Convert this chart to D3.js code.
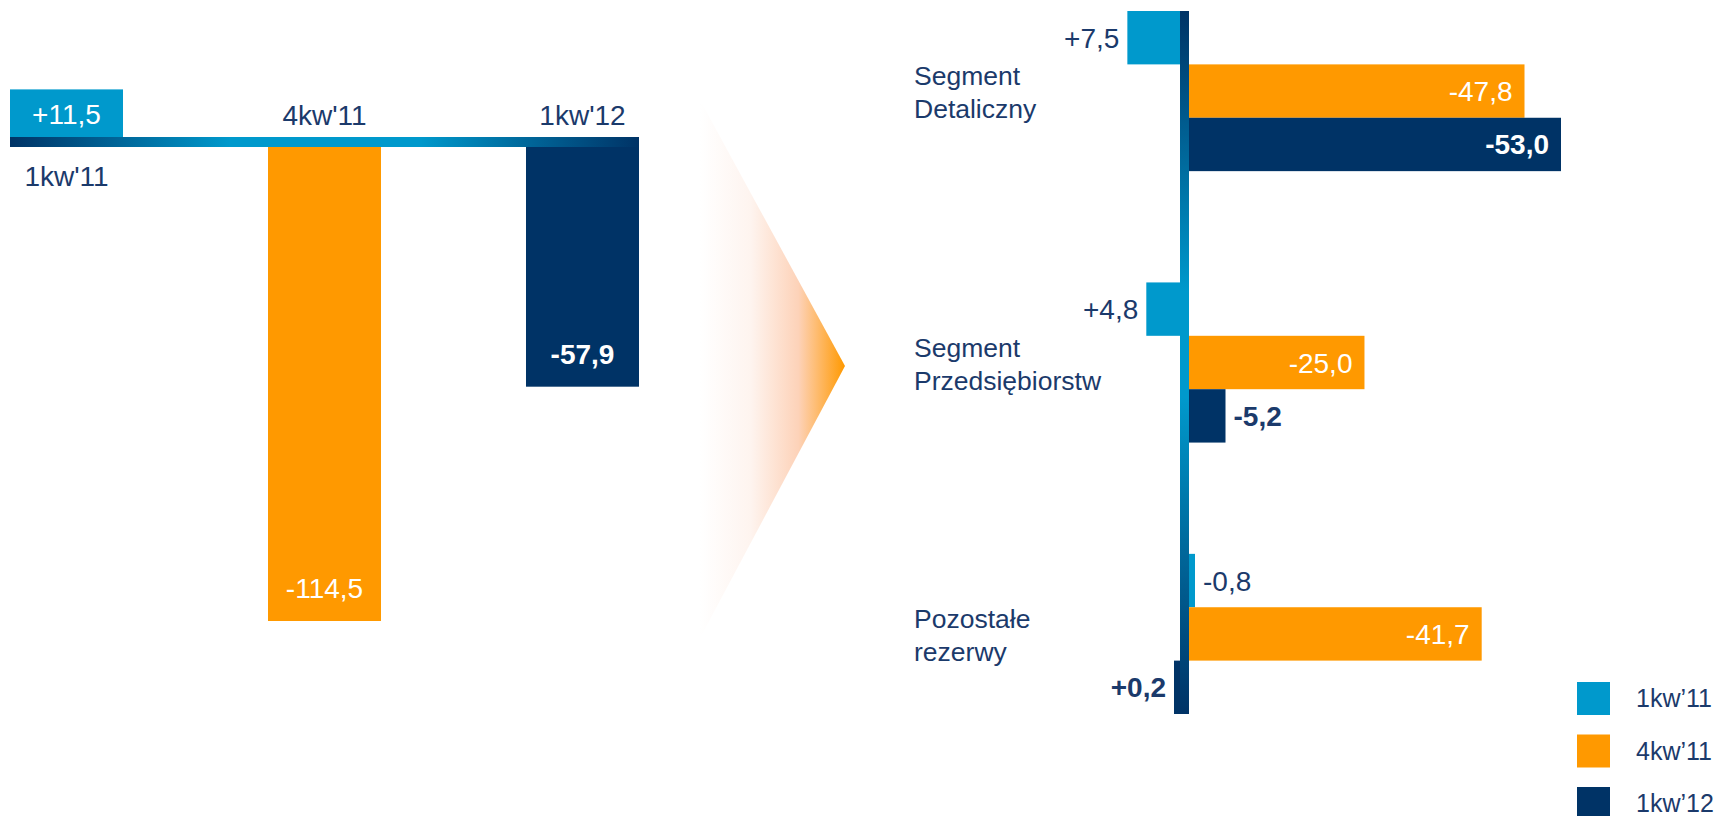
<!DOCTYPE html>
<html>
<head>
<meta charset="utf-8">
<script src="https://cdn.jsdelivr.net/npm/d3@7"></script>
<style>
  body { margin: 0; background: #fff; }
  svg { display: block; font-family: Arial, "Liberation Sans", sans-serif; }
</style>
</head>
<body>
<svg id="chart" width="1724" height="816"></svg>
<script>
// lewy wykres: suma rezerw
const totalCategories = ["1kw'11", "4kw'11", "1kw'12"];
const totalValues = [11.5, -114.5, -57.9];

// prawy wykres: podział na segmenty
const segments = [["Segment", "Detaliczny"], ["Segment", "Przedsiębiorstw"], ["Pozostałe", "rezerwy"]];
const seriesNames = ["1kw’11", "4kw’11", "1kw’12"];
const values1kw11 = [7.5, 4.8, -0.8];
const values4kw11 = [-47.8, -25.0, -41.7];
const values1kw12 = [-53.0, -5.2, 0.2];

const colors = ["#0099cc", "#ff9900", "#003366"];
const textColor = "#1b3a6b";

const svg = d3.select("#chart");
const defs = svg.append("defs");

// formatowanie liczb po polsku (przecinek, znak +)
function fmt(v) {
  const s = Math.abs(v).toFixed(1).replace(".", ",");
  return (v > 0 ? "+" : "-") + s;
}

// gradienty
const hGrad = defs.append("linearGradient").attr("id", "axisH").attr("x1", 0).attr("x2", 1).attr("y1", 0).attr("y2", 0);
[[0, "#003366"], [0.35, "#0099cc"], [0.65, "#0099cc"], [1, "#003366"]].forEach(s =>
  hGrad.append("stop").attr("offset", s[0]).attr("stop-color", s[1]));

const vGrad = defs.append("linearGradient").attr("id", "axisV").attr("x1", 0).attr("x2", 0).attr("y1", 0).attr("y2", 1);
[[0, "#003366"], [0.4, "#0099cc"], [0.55, "#0099cc"], [1, "#003366"]].forEach(s =>
  vGrad.append("stop").attr("offset", s[0]).attr("stop-color", s[1]));

const arrowGrad = defs.append("linearGradient").attr("id", "arrowG").attr("x1", 0).attr("x2", 1).attr("y1", 0).attr("y2", 0);
[[0, "#ffffff"], [0.35, "#fef4ef"], [0.68, "#fdd2b8"], [1, "#ff9900"]].forEach(s =>
  arrowGrad.append("stop").attr("offset", s[0]).attr("stop-color", s[1]));

// ---------- lewy wykres ----------
const axisTop = 137, axisH = 10;
const xLeft = d3.scaleBand().domain(totalCategories).range([10, 639]).paddingInner(0.562).paddingOuter(0);
const hLeft = d3.scaleLinear().domain([0, 114.5]).range([0, 474]);

const left = svg.append("g");
left.selectAll("rect.bar").data(totalValues).join("rect")
  .attr("class", "bar")
  .attr("x", (d, i) => xLeft(totalCategories[i]))
  .attr("width", xLeft.bandwidth())
  .attr("y", d => d > 0 ? axisTop - hLeft(d) : axisTop + axisH)
  .attr("height", d => hLeft(Math.abs(d)))
  .attr("fill", (d, i) => colors[i]);

left.append("rect")
  .attr("x", xLeft.range()[0]).attr("y", axisTop)
  .attr("width", xLeft.range()[1] - xLeft.range()[0]).attr("height", axisH)
  .attr("fill", "url(#axisH)");

left.selectAll("text.val").data(totalValues).join("text")
  .attr("class", "val")
  .attr("x", (d, i) => xLeft(totalCategories[i]) + xLeft.bandwidth() / 2)
  .attr("y", d => d > 0 ? axisTop - hLeft(d) / 2 + 11 : axisTop + axisH + hLeft(-d) - 23)
  .attr("text-anchor", "middle")
  .attr("font-size", 28)
  .attr("font-weight", (d, i) => i === 2 ? "bold" : "normal")
  .attr("fill", "#fff")
  .text(d => fmt(d));

left.selectAll("text.cat").data(totalValues).join("text")
  .attr("class", "cat")
  .attr("x", (d, i) => xLeft(totalCategories[i]) + xLeft.bandwidth() / 2)
  .attr("y", d => d > 0 ? axisTop + axisH + 39 : axisTop - 12)
  .attr("text-anchor", "middle")
  .attr("font-size", 28)
  .attr("fill", textColor)
  .text((d, i) => totalCategories[i]);

// strzałka
svg.append("path")
  .attr("d", "M700,100 L845,366 L700,638 Z")
  .attr("fill", "url(#arrowG)");

// ---------- prawy wykres ----------
const series = [values1kw11, values4kw11, values1kw12];
const yGroup = d3.scaleBand().domain(d3.range(segments.length)).range([11, 714]).paddingInner(0.41).paddingOuter(0);
const ySeries = d3.scaleBand().domain(d3.range(series.length)).range([0, yGroup.bandwidth()]);
const axisX = 1180, axisW = 9;
const wRight = d3.scaleLinear().domain([0, 53]).range([0, 372]);

const cells = [];
segments.forEach((seg, g) => series.forEach((vals, s) => cells.push({ g, s, v: vals[g] })));

const right = svg.append("g");
function barW(d) { return Math.max(wRight(Math.abs(d.v)), 6); }
function barX(d) { return d.v > 0 ? axisX - barW(d) : axisX + axisW; }

right.selectAll("rect.bar").data(cells).join("rect")
  .attr("class", "bar")
  .attr("x", barX)
  .attr("width", barW)
  .attr("y", d => yGroup(d.g) + ySeries(d.s))
  .attr("height", ySeries.bandwidth())
  .attr("fill", d => colors[d.s]);

right.append("rect")
  .attr("x", axisX).attr("y", yGroup.range()[0])
  .attr("width", axisW).attr("height", yGroup.range()[1] - yGroup.range()[0])
  .attr("fill", "url(#axisV)");

right.selectAll("text.val").data(cells).join("text")
  .attr("class", "val")
  .each(function (d) {
    const t = d3.select(this);
    const inside = d.v < 0 && barW(d) > 80;
    let x, anchor;
    if (inside) { x = barX(d) + barW(d) - 12; anchor = "end"; }
    else if (d.v > 0) { x = barX(d) - 8; anchor = "end"; }
    else { x = barX(d) + barW(d) + 8; anchor = "start"; }
    t.attr("x", x).attr("text-anchor", anchor)
      .attr("fill", inside ? "#fff" : textColor);
  })
  .attr("y", d => yGroup(d.g) + ySeries(d.s) + ySeries.bandwidth() / 2 + 10)
  .attr("font-size", 28)
  .attr("font-weight", d => d.s === 2 ? "bold" : "normal")
  .text(d => fmt(d.v));

const segLabels = right.selectAll("text.seg").data(segments).join("text")
  .attr("class", "seg")
  .attr("x", 914)
  .attr("y", (d, i) => yGroup(i) + yGroup.bandwidth() / 2 - 6)
  .attr("font-size", 26.5)
  .attr("fill", textColor);
segLabels.selectAll("tspan").data(d => d).join("tspan")
  .attr("x", 914)
  .attr("dy", (d, i) => i === 0 ? 0 : 33)
  .text(d => d);

// legenda
const legend = svg.append("g").selectAll("g").data(seriesNames).join("g")
  .attr("transform", (d, i) => `translate(1577,${682 + i * 52.5})`);
legend.append("rect").attr("width", 33).attr("height", 33).attr("fill", (d, i) => colors[i]);
legend.append("text").attr("x", 59).attr("y", 25)
  .attr("font-size", 25).attr("fill", textColor).text(d => d);
</script>
</body>
</html>
